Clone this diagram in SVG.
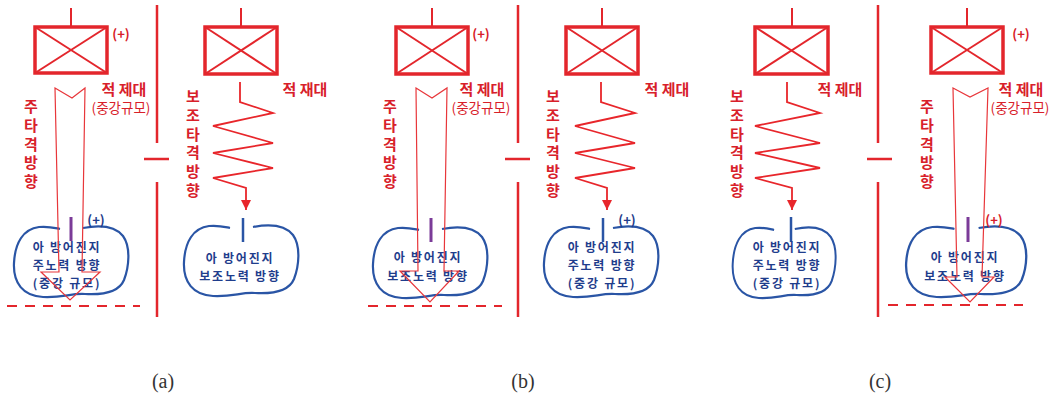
<svg xmlns="http://www.w3.org/2000/svg" width="1062" height="396" viewBox="0 0 1062 396">
<style>
.box{fill:none;stroke:#e3262c;stroke-width:3.5}
.diag{stroke:#e3262c;stroke-width:2}
.stem{stroke:#e3262c;stroke-width:2}
.zig{fill:none;stroke:#e8262b;stroke-width:1.8;stroke-linejoin:miter}
.main{fill:none;stroke:#e8363a;stroke-width:1.2}
.div{stroke:#e3262c;stroke-width:2.5}
.dash{stroke:#e3262c;stroke-width:2;stroke-dasharray:10 8}
.blob{fill:none;stroke:#2a55a5;stroke-width:2.2}
.bar{stroke:#2a55a5;stroke-width:2.5}
.pbar{stroke:#7b3b98;stroke-width:3}
.rt{font-family:"Noto Sans CJK KR","Noto Sans",sans-serif;fill:#d8202a;font-weight:bold}
.lbl{font-size:15px;text-anchor:middle}
.sm{font-size:13.5px;text-anchor:middle;font-weight:normal}
.vt{font-size:15px;text-anchor:start;writing-mode:vertical-rl;letter-spacing:3.7px}
.bt{font-family:"Noto Sans CJK KR","Noto Sans",sans-serif;fill:#1f3d8c;font-size:12px;font-weight:bold;text-anchor:middle;letter-spacing:1.8px}
.pl{font-family:"Noto Sans CJK KR","Noto Sans",sans-serif;font-size:13px;text-anchor:middle}
.cap{font-family:"Liberation Serif",serif;font-size:20px;fill:#333;text-anchor:middle}
</style>
<defs>
<marker id="ah" markerWidth="10" markerHeight="10" refX="10" refY="5" orient="auto" markerUnits="userSpaceOnUse" viewBox="0 0 10 10">
<path d="M0,0 L10,5 L0,10 Z" fill="#e8262b"/>
</marker>
<path id="blobp" d="M 12,-33 C 28,-36 44,-35 52,-25 C 60,-14 58,6 53,19 C 48,31 32,34 14,33 C 0,32 -8,37 -28,36 C -48,35 -58,22 -57,2 C -56,-18 -48,-32 -32,-34 C -22,-35 -16,-33 -11,-32"/>
</defs>

<!-- dividers -->
<g id="dividers">
<line class="div" x1="157" y1="5" x2="157" y2="143"/>
<line class="div" x1="144" y1="159" x2="169" y2="159"/>
<line class="div" x1="157" y1="182" x2="157" y2="317"/>
<line class="div" x1="518" y1="5" x2="518" y2="143"/>
<line class="div" x1="505" y1="159" x2="530" y2="159"/>
<line class="div" x1="518" y1="182" x2="518" y2="317"/>
<line class="div" x1="878" y1="5" x2="878" y2="143"/>
<line class="div" x1="867" y1="159" x2="892" y2="159"/>
<line class="div" x1="878" y1="182" x2="878" y2="317"/>
<line class="dash" x1="7" y1="306" x2="140" y2="306"/>
<line class="dash" x1="368" y1="306" x2="502" y2="306"/>
<line class="dash" x1="888" y1="305" x2="1023" y2="305"/>
</g>

<!-- enemy units -->
<g id="enemy-a1">
<line class="stem" x1="71" y1="8" x2="71" y2="27"/>
<rect class="box" x="35" y="27" width="72" height="46"/>
<line class="diag" x1="35" y1="27" x2="107" y2="73"/><line class="diag" x1="107" y1="27" x2="35" y2="73"/>
<text class="rt pl" x="121" y="39">(+)</text>
<text class="rt lbl" x="124" y="95">적 제대</text>
<text class="rt sm" x="121" y="113">(중강규모)</text>
</g>
<g id="enemy-a2">
<line class="stem" x1="241" y1="8" x2="241" y2="27"/>
<rect class="box" x="205" y="27" width="72" height="47"/>
<line class="diag" x1="205" y1="27" x2="277" y2="74"/><line class="diag" x1="277" y1="27" x2="205" y2="74"/>
<text class="rt lbl" x="305" y="95">적 재대</text>
</g>
<g id="enemy-b1">
<line class="stem" x1="432" y1="8" x2="432" y2="27"/>
<rect class="box" x="396" y="27" width="72" height="47"/>
<line class="diag" x1="396" y1="27" x2="468" y2="74"/><line class="diag" x1="468" y1="27" x2="396" y2="74"/>
<text class="rt pl" x="481" y="39">(+)</text>
<text class="rt lbl" x="482" y="95">적 제대</text>
<text class="rt sm" x="481" y="113">(중강규모)</text>
</g>
<g id="enemy-b2">
<line class="stem" x1="602" y1="8" x2="602" y2="27"/>
<rect class="box" x="566" y="27" width="72" height="47"/>
<line class="diag" x1="566" y1="27" x2="638" y2="74"/><line class="diag" x1="638" y1="27" x2="566" y2="74"/>
<text class="rt lbl" x="667" y="95">적 제대</text>
</g>
<g id="enemy-c1">
<line class="stem" x1="792" y1="8" x2="792" y2="27"/>
<rect class="box" x="755" y="27" width="73" height="47"/>
<line class="diag" x1="755" y1="27" x2="828" y2="74"/><line class="diag" x1="828" y1="27" x2="755" y2="74"/>
<text class="rt lbl" x="840" y="95">적 제대</text>
</g>
<g id="enemy-c2">
<line class="stem" x1="967" y1="8" x2="967" y2="27"/>
<rect class="box" x="931" y="27" width="72" height="46"/>
<line class="diag" x1="931" y1="27" x2="1003" y2="73"/><line class="diag" x1="1003" y1="27" x2="931" y2="73"/>
<text class="rt pl" x="1021" y="39">(+)</text>
<text class="rt lbl" x="1021" y="95">적 제대</text>
<text class="rt sm" x="1020" y="113">(중강규모)</text>
</g>

<!-- vertical labels -->
<g id="label-a1"><text class="rt vt" x="31" y="99">주타격방향</text></g>
<g id="label-b1"><text class="rt vt" x="390" y="99">주타격방향</text></g>
<g id="label-c2"><text class="rt vt" x="927" y="99">주타격방향</text></g>
<g id="label-a2"><text class="rt vt" x="193" y="89">보조타격방향</text></g>
<g id="label-b2"><text class="rt vt" x="553" y="89">보조타격방향</text></g>
<g id="label-c1"><text class="rt vt" x="737" y="89">보조타격방향</text></g>

<!-- defensive positions -->
<g id="defense-a1">
<use href="#blobp" class="blob" transform="translate(71,261)"/>
<line class="pbar" x1="71" y1="217" x2="71" y2="241"/>
<text class="pl" fill="#1f3d8c" font-weight="bold" x="96" y="225">(+)</text>
<text class="bt"><tspan x="67" y="252">아 방어진지</tspan><tspan x="67" y="270">주노력 방향</tspan><tspan x="67" y="288">(중강 규모)</tspan></text>
</g>
<g id="defense-a2">
<use href="#blobp" class="blob" transform="translate(241,260)"/>
<line class="bar" x1="243" y1="218" x2="243" y2="242"/>
<text class="bt"><tspan x="240" y="263">아 방어진지</tspan><tspan x="240" y="281">보조노력 방향</tspan></text>
</g>
<g id="defense-b1">
<use href="#blobp" class="blob" transform="translate(430,262)"/>
<line class="pbar" x1="431" y1="218" x2="431" y2="242"/>
<text class="bt"><tspan x="428" y="262">아 방어진지</tspan><tspan x="428" y="281">보조노력 방향</tspan></text>
</g>
<g id="defense-b2">
<use href="#blobp" class="blob" transform="translate(601,261)"/>
<line class="bar" x1="603" y1="218" x2="603" y2="242"/>
<text class="pl" fill="#1f3d8c" font-weight="bold" x="627" y="225">(+)</text>
<text class="bt"><tspan x="602" y="252">아 방어진지</tspan><tspan x="602" y="270">주노력 방향</tspan><tspan x="602" y="288">(중강 규모)</tspan></text>
</g>
<g id="defense-c1">
<use href="#blobp" class="blob" transform="translate(784,262) scale(0.9,1)"/>
<line class="bar" x1="791" y1="217" x2="791" y2="242"/>
<text class="bt"><tspan x="787" y="252">아 방어진지</tspan><tspan x="787" y="270">주노력 방향</tspan><tspan x="787" y="288">(중강 규모)</tspan></text>
</g>
<g id="defense-c2">
<use href="#blobp" class="blob" transform="translate(966,261) scale(1.05,1)"/>
<line class="pbar" x1="968" y1="217" x2="968" y2="242"/>
<text class="rt pl" font-weight="normal" x="994" y="225">(+)</text>
<text class="bt"><tspan x="965" y="262">아 방어진지</tspan><tspan x="965" y="281">보조노력 방향</tspan></text>
</g>

<!-- connectors -->
<g id="connectors">
<path class="main" d="M55,88 L72,98 L85,88 L82,272 L100,272 L70,300 L41,272 L59,272 Z"/>
<path class="main" d="M416,88 L432,98 L447,88 L444,271 L459,271 L430,302 L400,271 L418,271 Z"/>
<path class="main" d="M953,88 L970,97 L988,88 L982,277 L994,277 L970,302 L945,277 L957,277 Z"/>
<path class="zig" marker-end="url(#ah)" d="M240,82 L240,102 L273,113 L213,126 L273,143 L213,153 L273,168 L213,178 L246,188 L246,210"/>
<path class="zig" marker-end="url(#ah)" d="M601,82 L601,102 L635,113 L575,126 L635,143 L575,153 L635,168 L575,178 L607,188 L607,210"/>
<path class="zig" marker-end="url(#ah)" d="M787,82 L787,102 L820,113 L755,126 L820,143 L755,153 L820,168 L755,178 L792,188 L792,210"/>
</g>

<g id="captions">
<text class="cap" x="163" y="388">(a)</text>
<text class="cap" x="523" y="388">(b)</text>
<text class="cap" x="880" y="388">(c)</text>
</g>
</svg>
